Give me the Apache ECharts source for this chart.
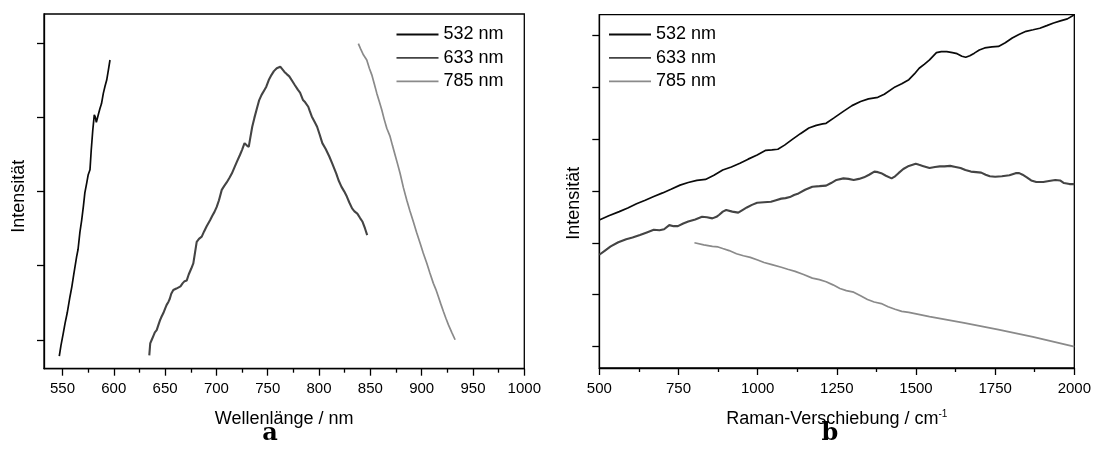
<!DOCTYPE html>
<html>
<head>
<meta charset="utf-8">
<script src="https://cdn.jsdelivr.net/npm/echarts@6/dist/echarts.min.js"></script>
<style>
html,body{margin:0;padding:0;background:#fff;}
#chart{width:1094px;height:466px;}
</style>
</head>
<body>
<div id="chart"></div>
<script>
// ---------- DATA ----------
const seriesNames = ['532 nm', '633 nm', '785 nm'];
const panelLabels = ['a', 'b'];
const axisNames = ['Wellenlänge / nm', 'Raman-Verschiebung / cm', 'Intensität'];

// Panel a: wavelength (nm) vs intensity (a.u.)
const wlTicks = [550, 600, 650, 700, 750, 800, 850, 900, 950, 1000];
const wlMinorTicks = [575, 625, 675, 725, 775, 825, 875, 925, 975];
const intTicksA = [0, 1, 2, 3, 4];

const wl532 = [[546.9,-0.22],[548.5,-0.08],[550.8,0.09],[552.5,0.22],[554.6,0.36],[557.3,0.58],[559.2,0.72],[561.0,0.88],[563.8,1.12],[565.2,1.22],[567.0,1.45],[568.7,1.61],[570.4,1.80],[571.8,1.98],[573.6,2.11],[575.0,2.22],[576.8,2.29],[578.0,2.55],[579.5,2.82],[581.0,3.03],[582.0,3.00],[583.0,2.93],[584.3,2.91],[585.2,3.05],[586.6,3.12],[588.0,3.18],[589.8,3.32],[591.5,3.42],[593.1,3.50],[594.8,3.64],[596.3,3.77]];

const wl633 = [[634.6,-0.21],[635.5,-0.05],[637.0,0.00],[638.5,0.05],[640.0,0.10],[641.8,0.13],[643.5,0.20],[645.0,0.26],[646.5,0.31],[648.3,0.36],[650.0,0.42],[651.5,0.47],[653.2,0.51],[654.5,0.55],[656.0,0.62],[658.0,0.67],[659.5,0.66],[661.0,0.69],[662.9,0.67],[665.0,0.72],[667.0,0.76],[669.0,0.79],[671.1,0.80],[673.0,0.88],[675.5,0.96],[677.5,1.03],[679.0,1.16],[680.8,1.32],[683.0,1.36],[685.7,1.39],[688.0,1.46],[690.5,1.53],[693.8,1.61],[696.0,1.67],[698.0,1.72],[700.3,1.79],[702.5,1.88],[705.2,2.02],[707.5,2.07],[710.0,2.12],[712.6,2.18],[715.0,2.24],[717.8,2.33],[720.0,2.40],[722.9,2.49],[725.0,2.56],[727.4,2.65],[729.5,2.62],[731.5,2.60],[733.0,2.72],[734.9,2.87],[737.0,2.99],[739.5,3.12],[741.7,3.23],[744.0,3.30],[746.5,3.36],[748.6,3.41],[751.0,3.50],[753.7,3.57],[756.0,3.62],[758.8,3.66],[760.5,3.64],[762.2,3.68],[764.0,3.70],[766.3,3.61],[768.5,3.58],[771.0,3.55],[774.2,3.48],[776.5,3.43],[779.3,3.37],[781.5,3.33],[784.4,3.23],[786.5,3.20],[789.5,3.14],[791.0,3.08],[792.9,3.01],[795.5,2.94],[798.1,2.87],[800.5,2.77],[803.2,2.65],[806.5,2.57],[810.0,2.47],[813.0,2.37],[816.8,2.24],[819.0,2.15],[821.9,2.06],[824.5,2.00],[827.1,1.93],[829.5,1.85],[832.2,1.77],[834.5,1.73],[837.3,1.70],[840.0,1.64],[842.4,1.59],[844.8,1.50],[846.9,1.41]];

const wl785 = [[838.3,3.99],[840.5,3.92],[843.2,3.84],[846.5,3.77],[849.0,3.66],[851.4,3.57],[853.8,3.45],[856.3,3.32],[858.7,3.21],[861.1,3.10],[863.5,2.97],[866.0,2.85],[869.2,2.74],[871.5,2.62],[874.1,2.49],[876.5,2.37],[879.0,2.24],[882.2,2.05],[885.5,1.88],[888.5,1.74],[891.9,1.59],[895.0,1.45],[898.5,1.30],[901.5,1.17],[905.0,1.03],[908.0,0.90],[911.4,0.76],[913.8,0.68],[916.3,0.58],[918.7,0.48],[921.2,0.38],[923.6,0.29],[926.1,0.20],[929.3,0.10],[932.6,0.00]];

// Panel b: Raman shift (cm-1) vs intensity (a.u.)
const intTicksB = [0, 1, 2, 3, 4, 5, 6];

const rs532 = [[500,2.44],[530,2.52],[563,2.60],[590,2.67],[617.6,2.75],[645,2.82],[672,2.89],[700,2.96],[726.4,3.03],[755,3.11],[780.8,3.16],[808,3.20],[835.3,3.22],[862,3.30],[889.7,3.40],[917,3.46],[944.1,3.53],[970,3.61],[998.5,3.69],[1025.7,3.78],[1045,3.79],[1063.8,3.80],[1085,3.88],[1107.4,3.98],[1135,4.10],[1161.8,4.21],[1185,4.26],[1205.3,4.29],[1216.2,4.30],[1240,4.40],[1270.7,4.53],[1298,4.64],[1325.1,4.72],[1350,4.77],[1379.5,4.80],[1400,4.86],[1433.9,5.00],[1455,5.06],[1477.5,5.14],[1495,5.25],[1510.1,5.36],[1527,5.44],[1542.8,5.52],[1564.6,5.66],[1580,5.68],[1597.2,5.68],[1615,5.66],[1629.9,5.64],[1645,5.59],[1657.1,5.57],[1670,5.60],[1684.3,5.65],[1700,5.71],[1716.9,5.75],[1740,5.77],[1760.5,5.78],[1782,5.85],[1804,5.94],[1825,6.01],[1847.5,6.07],[1870,6.10],[1891.1,6.13],[1913,6.18],[1934.6,6.23],[1956,6.27],[1978.2,6.31],[2000,6.39]];

const rs633 = [[500,1.77],[518,1.85],[535.9,1.93],[560,2.01],[584.9,2.07],[605,2.10],[628.4,2.15],[650,2.20],[672,2.25],[690,2.24],[704.6,2.26],[721,2.34],[735,2.32],[748.2,2.32],[765,2.37],[780.8,2.41],[803,2.45],[824.4,2.50],[840,2.49],[857,2.47],[870,2.50],[878.8,2.54],[890,2.60],[900.6,2.63],[920,2.60],[938.7,2.58],[952,2.63],[965.9,2.68],[982,2.73],[998.5,2.77],[1020,2.78],[1042.1,2.79],[1058,2.82],[1074.7,2.85],[1088,2.86],[1101.9,2.88],[1115,2.92],[1129.1,2.95],[1150,3.02],[1172.7,3.08],[1195,3.09],[1216.2,3.10],[1232,3.15],[1248.9,3.21],[1270.7,3.24],[1287,3.23],[1303.3,3.21],[1320,3.23],[1335.9,3.26],[1352,3.31],[1368.6,3.37],[1380,3.36],[1390.3,3.34],[1405,3.29],[1423,3.24],[1434,3.28],[1444.8,3.34],[1460,3.42],[1477.5,3.48],[1499.2,3.52],[1510,3.50],[1521,3.48],[1542.8,3.44],[1560,3.46],[1575.4,3.47],[1590,3.47],[1608.1,3.48],[1625,3.46],[1640.7,3.44],[1656,3.40],[1673.4,3.37],[1690,3.36],[1706,3.35],[1720,3.31],[1733.2,3.28],[1750,3.27],[1771.3,3.28],[1795,3.30],[1814.8,3.34],[1826,3.34],[1836.6,3.31],[1850,3.26],[1863.8,3.20],[1880,3.17],[1902,3.17],[1920,3.19],[1940,3.21],[1955,3.20],[1967.3,3.15],[1985,3.13],[2000,3.13]];

const rs785 = [[800.4,2.00],[830,1.96],[857,1.93],[875,1.92],[889.7,1.89],[910,1.85],[933.2,1.79],[955,1.75],[976.8,1.72],[1000,1.67],[1020.3,1.62],[1045,1.58],[1074.7,1.53],[1095,1.49],[1118.3,1.45],[1145,1.39],[1172.7,1.32],[1195,1.29],[1216.2,1.25],[1238,1.19],[1259.8,1.12],[1280,1.08],[1303.3,1.05],[1325,0.98],[1346.9,0.91],[1368,0.86],[1390.4,0.83],[1412,0.77],[1433.9,0.72],[1455,0.68],[1477.5,0.66],[1542.8,0.58],[1651.6,0.46],[1760.5,0.33],[1869.3,0.19],[2000,0.00]];

// ---------- STYLE ----------
const FONT = '"Liberation Sans", Arial, sans-serif';
const colors = ['#0a0a0a', '#444444', '#8a8a8a'];
const widths = [1.7, 2.1, 1.7];

const chart = echarts.init(document.getElementById('chart'), null, {renderer: 'canvas'});

function lineSeries(i, data, xi, yi) {
  return {
    type: 'line', name: seriesNames[i], data: data,
    xAxisIndex: xi, yAxisIndex: yi,
    symbol: 'none', showSymbol: false, smooth: false,
    lineStyle: {color: colors[i], width: widths[i]},
    itemStyle: {color: colors[i]},
    emphasis: {disabled: true}, animation: false, z: 3
  };
}

const fmt = function (v) { return String(v); };
const tickLabelStyle = {fontFamily: FONT, fontSize: 15, color: '#000', margin: 13, formatter: fmt};
const nameStyle = {fontFamily: FONT, fontSize: 18, color: '#000'};
const axisLineStyle = {show: true, onZero: false, lineStyle: {color: '#000', width: 1.3}};

function makeLegend(left, top) {
  return {
    show: true, orient: 'vertical', left: left, top: top,
    icon: 'rect', itemWidth: 42, itemHeight: 1.8, itemGap: 5.4,
    textStyle: {fontFamily: FONT, fontSize: 18, color: '#000'},
    data: seriesNames.slice()
  };
}

const option = {
  backgroundColor: '#fff',
  animation: false,
  grid: [
    {left: 44, right: 569.7, top: 14, bottom: 97.3, show: true, borderColor: '#000', borderWidth: 1.3, containLabel: false},
    {left: 599.3, right: 16.3, top: 14.7, bottom: 98, show: true, borderColor: '#000', borderWidth: 1.3, containLabel: false}
  ],
  legend: [makeLegend(391.5, 20.5), makeLegend(604, 20.5)],
  xAxis: [
    {
      type: 'value', gridIndex: 0, min: 532, max: 1000, position: 'bottom',
      name: axisNames[0], nameLocation: 'middle', nameGap: 41, nameTextStyle: nameStyle,
      axisLine: axisLineStyle,
      axisTick: {show: true, inside: false, length: 7, lineStyle: {color: '#000', width: 1.3}, customValues: wlTicks},
      axisLabel: Object.assign({customValues: wlTicks}, tickLabelStyle),
      splitLine: {show: false}
    },
    {
      type: 'value', gridIndex: 0, min: 532, max: 1000, position: 'bottom',
      axisLine: {show: false, onZero: false},
      axisTick: {show: true, inside: false, length: 4, lineStyle: {color: '#000', width: 1.3}, customValues: wlMinorTicks},
      axisLabel: {show: false},
      splitLine: {show: false}
    },
    {
      type: 'value', gridIndex: 1, min: 500, max: 2000, interval: 250, position: 'bottom',
      name: axisNames[1] + '{sup|-1}', nameLocation: 'middle', nameGap: 41,
      nameTextStyle: Object.assign({rich: {sup: {fontFamily: FONT, fontSize: 10, color: '#000', verticalAlign: 'top', padding: [0, 0, 10, 0]}}}, nameStyle),
      axisLine: axisLineStyle,
      axisTick: {show: true, inside: false, length: 7, lineStyle: {color: '#000', width: 1.3}},
      minorTick: {show: true, splitNumber: 2, length: 4, lineStyle: {color: '#000', width: 1.3}},
      axisLabel: tickLabelStyle,
      splitLine: {show: false}, minorSplitLine: {show: false}
    }
  ],
  yAxis: [
    {
      type: 'value', gridIndex: 0, min: -0.39, max: 4.39,
      name: axisNames[2], nameLocation: 'middle', nameGap: 16,
      nameTextStyle: Object.assign({padding: [0, 10, 0, 0]}, nameStyle),
      axisLine: axisLineStyle,
      axisTick: {show: true, inside: false, length: 7, lineStyle: {color: '#000', width: 1.3}, customValues: intTicksA},
      axisLabel: {show: false}, splitLine: {show: false}
    },
    {
      type: 'value', gridIndex: 1, min: -0.41, max: 6.39,
      name: axisNames[2], nameLocation: 'middle', nameGap: 16,
      nameTextStyle: Object.assign({padding: [0, 24, 0, 0]}, nameStyle),
      axisLine: axisLineStyle,
      axisTick: {show: true, inside: false, length: 7, lineStyle: {color: '#000', width: 1.3}, customValues: intTicksB},
      axisLabel: {show: false}, splitLine: {show: false}
    }
  ],
  graphic: [
    {type: 'text', x: 270, y: 434, style: {text: panelLabels[0], font: 'bold 24px "DejaVu Serif", serif', fill: '#000', align: 'center', verticalAlign: 'middle'}},
    {type: 'text', x: 830, y: 434, style: {text: panelLabels[1], font: 'bold 24px "DejaVu Serif", serif', fill: '#000', align: 'center', verticalAlign: 'middle'}}
  ],
  series: [
    lineSeries(0, wl532, 0, 0),
    lineSeries(1, wl633, 0, 0),
    lineSeries(2, wl785, 0, 0),
    lineSeries(0, rs532, 2, 1),
    lineSeries(1, rs633, 2, 1),
    lineSeries(2, rs785, 2, 1)
  ]
};
chart.setOption(option);
</script>
</body>
</html>
